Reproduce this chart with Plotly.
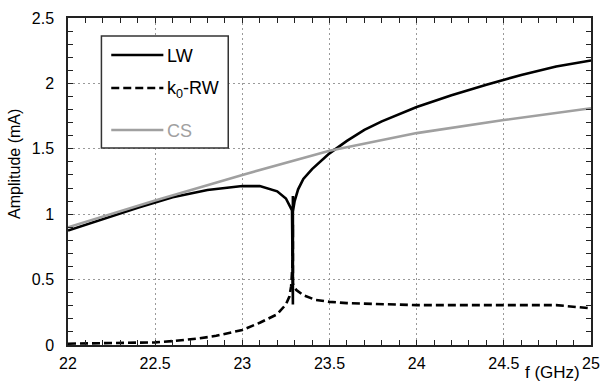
import plotly.graph_objects as go

# Frequency sweep (GHz) and response amplitudes (mA)
lw_f = [22.0, 22.2, 22.4, 22.5, 22.6, 22.8, 23.0, 23.1, 23.2, 23.25, 23.27, 23.285,
        23.29, 23.29, 23.29, 23.3, 23.32, 23.35, 23.4, 23.5, 23.6, 23.7, 23.8,
        24.0, 24.2, 24.4, 24.5, 24.6, 24.8, 25.0]
lw_amp = [0.875, 0.965, 1.05, 1.09, 1.13, 1.185, 1.215, 1.215, 1.175, 1.12, 1.07, 1.03,
          0.31, 1.14, 1.02, 1.1, 1.19, 1.27, 1.345, 1.465, 1.56, 1.645, 1.71,
          1.82, 1.91, 1.99, 2.03, 2.065, 2.13, 2.175]

rw_f = [22.0, 22.2, 22.4, 22.5, 22.6, 22.75, 22.85, 23.0, 23.1, 23.2, 23.25, 23.27,
        23.28, 23.287, 23.29, 23.29, 23.31, 23.35, 23.42, 23.5, 23.6, 23.7, 23.8,
        24.0, 24.5, 24.8, 25.0]
rw_amp = [0.01, 0.012, 0.015, 0.02, 0.03, 0.05, 0.07, 0.115, 0.17, 0.235, 0.31, 0.37,
          0.45, 0.6, 0.92, 0.47, 0.42, 0.38, 0.345, 0.33, 0.32, 0.315, 0.31,
          0.305, 0.305, 0.305, 0.28]

cs_f = [22.0, 22.5, 23.0, 23.5, 24.0, 24.5, 25.0]
cs_amp = [0.9, 1.105, 1.3, 1.485, 1.62, 1.72, 1.81]

x_ticks = [22, 22.5, 23, 23.5, 24, 24.5, 25]
x_tick_text = ["22", "22.5", "23", "23.5", "24", "24.5", "25"]
y_ticks = [0, 0.5, 1, 1.5, 2, 2.5]
y_tick_text = ["0", "0.5", "1", "1.5", "2", "2.5"]

series_names = ["LW", "k<sub>0</sub>-RW", "CS"]

FONT = "Liberation Sans, Arial, Helvetica, sans-serif"
BLACK = "#000000"
GRAY = "#a0a0a0"

fig = go.Figure()
fig.add_trace(go.Scatter(x=lw_f, y=lw_amp, mode="lines", name="LW",
                         line=dict(color=BLACK, width=2.6), showlegend=False))
fig.add_trace(go.Scatter(x=rw_f, y=rw_amp, mode="lines", name="k0-RW",
                         line=dict(color=BLACK, width=2.6, dash="8px,4px"),
                         showlegend=False))
fig.add_trace(go.Scatter(x=cs_f, y=cs_amp, mode="lines", name="CS",
                         line=dict(color=GRAY, width=2.6), showlegend=False))

axis_common = dict(
    showline=True, linecolor="#222", linewidth=1.5, mirror="ticks",
    ticks="inside", ticklen=5, tickwidth=1, tickcolor="#222",
    showgrid=True, gridcolor="#9a9a9a", gridwidth=1, griddash="2px,3px",
    zeroline=False, tickfont=dict(family=FONT, size=16, color=BLACK),
    minor=dict(dtick=0.1, ticks="inside", ticklen=5, tickcolor="#222",
               tickwidth=1, showgrid=False),
)

fig.update_xaxes(range=[22, 25], tickvals=x_ticks, ticktext=x_tick_text,
                 ticklabelstandoff=3, **axis_common)
fig.update_yaxes(range=[0, 2.5], tickvals=y_ticks, ticktext=y_tick_text,
                 ticklabelstandoff=9, **axis_common)

# Hand-drawn legend box in the upper-left of the plot area
L, T, W, H = 68, 18, 532, 327


def px(xp):
    return (xp - L) / W


def py(yp):
    return (T + H - yp) / H


shapes = [
    dict(type="rect", xref="paper", yref="paper",
         x0=px(102), x1=px(231), y0=py(148), y1=py(36),
         line=dict(color="#333", width=1.5), fillcolor="white", layer="above"),
]
legend_rows = [
    (55, BLACK, "solid", series_names[0], BLACK),
    (88, BLACK, "8px,4px", series_names[1], BLACK),
    (130, GRAY, "solid", series_names[2], GRAY),
]
annotations = []
for yp, col, dash, label, tcol in legend_rows:
    shapes.append(dict(type="line", xref="paper", yref="paper",
                       x0=px(112), x1=px(165), y0=py(yp), y1=py(yp),
                       line=dict(color=col, width=2.6, dash=dash), layer="above"))
    annotations.append(dict(xref="paper", yref="paper", x=px(167), y=py(yp + 1),
                            text=label, showarrow=False, xanchor="left",
                            yanchor="middle",
                            font=dict(family=FONT, size=18, color=tcol)))

annotations.append(dict(xref="paper", yref="paper", x=px(561), y=py(372),
                        text="f (GHz)", showarrow=False, xanchor="center",
                        yanchor="middle", font=dict(family=FONT, size=17, color=BLACK)))
annotations.append(dict(xref="paper", yref="paper", x=px(14), y=py(164),
                        text="Amplitude (mA)", showarrow=False, textangle=-90,
                        xanchor="center", yanchor="middle",
                        font=dict(family=FONT, size=16, color=BLACK)))

fig.update_layout(
    width=609, height=384,
    margin=dict(l=L, r=609 - L - W, t=T, b=384 - T - H),
    paper_bgcolor="white", plot_bgcolor="white",
    shapes=shapes, annotations=annotations,
    font=dict(family=FONT),
)

fig.write_html("out.html")
